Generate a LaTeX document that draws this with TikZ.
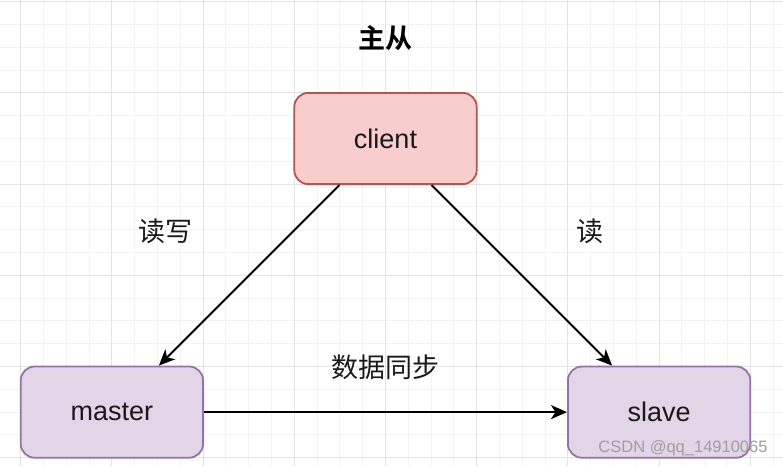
\documentclass[tikz,border=0pt]{standalone}
\usepackage{fontspec}
\setmainfont{Liberation Sans}
\newfontfamily\cjk{Noto Sans CJK SC}[BoldFont={Noto Sans CJK SC Bold}]
\usetikzlibrary{arrows.meta,calc}
\definecolor{redfill}{HTML}{F8CECC}
\definecolor{redline}{HTML}{B85450}
\definecolor{purfill}{HTML}{E1D5E7}
\definecolor{purline}{HTML}{9673A6}
\definecolor{minorgrid}{HTML}{F3F3F3}
\definecolor{majorgrid}{HTML}{E3E3E3}
\definecolor{txt}{HTML}{1A1A1A}
\tikzset{
  box/.style={draw, line width=1.8pt, rounded corners=14pt, minimum width=182.4pt, minimum height=91.2pt, inner sep=0pt, font=\fontsize{27}{30}\selectfont, text=txt},
  clientbox/.style={box, fill=redfill, draw=redline},
  nodebox/.style={box, fill=purfill, draw=purline},
  conn/.style={line width=1.9pt, -{Stealth[length=16pt,width=14pt,inset=4.5pt]}},
  lbl/.style={font=\cjk\fontsize{27}{30}\selectfont, text=txt, inner sep=0pt},
}
\begin{document}
\begin{tikzpicture}[x=1pt,y=-1pt]
\useasboundingbox (0,0) rectangle (783,466);
\fill[white] (0,0) rectangle (783,466);
% minor grid
\foreach \i in {-1,...,34} {
  \draw[minorgrid, line width=1pt] ({20.7+22.8*\i},0) -- ({20.7+22.8*\i},466);
}
\foreach \j in {0,...,20} {
  \draw[minorgrid, line width=1pt] (0,{1.7+22.8*\j}) -- (783,{1.7+22.8*\j});
}
% major grid
\foreach \i in {0,...,8} {
  \draw[majorgrid, line width=1pt] ({20.7+91.2*\i},0) -- ({20.7+91.2*\i},466);
}
\foreach \j in {0,...,5} {
  \draw[majorgrid, line width=1pt] (0,{1.7+91.2*\j}) -- (783,{1.7+91.2*\j});
}
% title
\node[lbl, font=\cjk\bfseries\fontsize{27}{30}\selectfont, text=black] (title) at (385,38) {主从};
% boxes
\node[clientbox] (client) at (385.5,138.5) {client};
\node[nodebox] (master) at (111.9,412.1) {master};
\node[nodebox] (slave) at (659.1,412.1) {slave};
% connectors
\draw[conn] ($(client.south)+(-46,0)$) -- ($(master.north)+(47,0)$);
\draw[conn] ($(client.south)+(46,0)$) -- ($(slave.north)+(-47,0)$);
\draw[conn] (master.east) -- (slave.west);
% labels
\node[lbl] (rw) at (165,231) {读写};
\node[lbl] (r) at (590,231) {读};
\node[lbl] (sync) at (385,367) {数据同步};
% watermark
\node[font=\fontsize{16.5}{18}\selectfont, text=gray!75, inner sep=0pt] (wm) at (683,448) {CSDN @qq\_14910065};
\end{tikzpicture}
\end{document}
